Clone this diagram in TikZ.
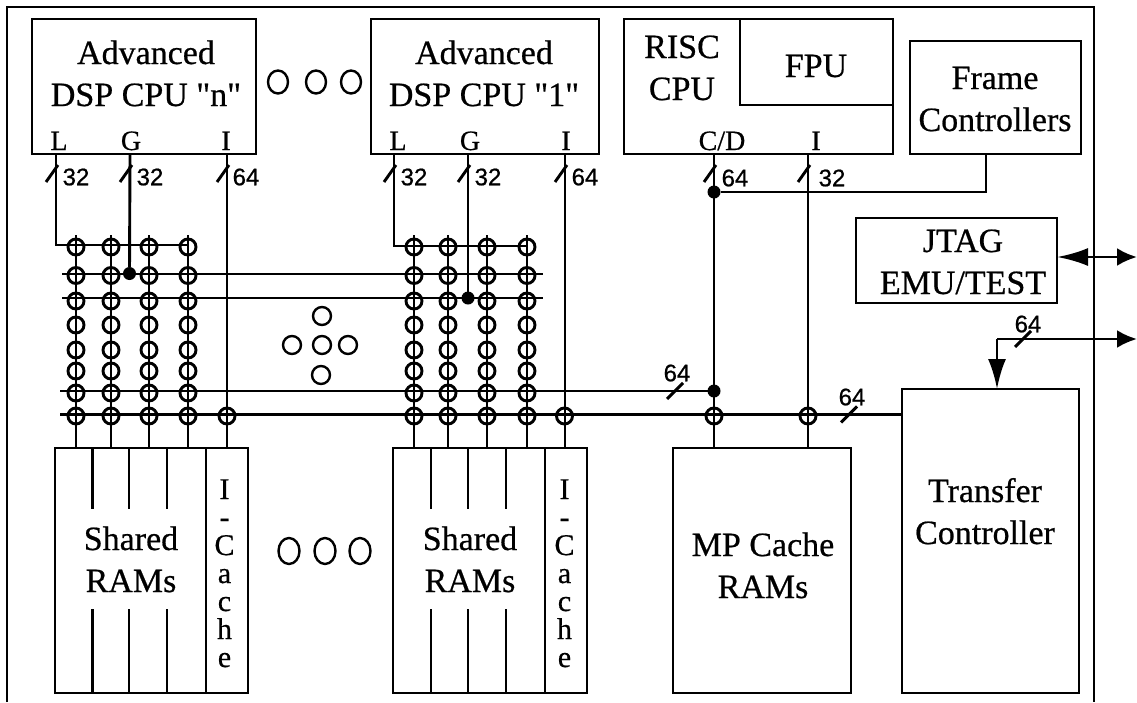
\documentclass[tikz,border=0pt]{standalone}
\usepackage{fontspec}
\newfontfamily\serf[FakeBold=0.6]{Liberation Serif}
\newfontfamily\numfont[FakeBold=0.7]{Liberation Sans}
\usetikzlibrary{arrows.meta,shapes.geometric}
\tikzset{
  ln/.style={line width=2.9pt,line cap=butt},
  thk/.style={line width=2.9pt},
  boxn/.style={draw,line width=2.9pt,inner sep=0pt,outer sep=0pt},
  txt/.style={inner sep=0pt,outer sep=0pt,align=center,anchor=base,font=\serf\fontsize{34}{42}\selectfont},
  portl/.style={inner sep=0pt,outer sep=0pt,anchor=base,font=\serf\fontsize{28}{30}\selectfont},
  cach/.style={inner sep=0pt,outer sep=0pt,align=center,anchor=base,font=\serf\fontsize{30}{28}\selectfont},
  num/.style={inner sep=0pt,outer sep=0pt,font=\numfont\fontsize{24}{24}\selectfont},
  junc/.style={draw,circle,line width=2.9pt,minimum size=16pt,inner sep=0pt,outer sep=0pt},
  bdot/.style={fill=black,circle,minimum size=13pt,inner sep=0pt,outer sep=0pt},
  oo/.style={draw,ellipse,line width=2.4pt,inner sep=0pt,outer sep=0pt,minimum width=20pt,minimum height=23pt},
  ool/.style={draw,ellipse,line width=2.4pt,inner sep=0pt,outer sep=0pt,minimum width=21pt,minimum height=26pt},
  ooc/.style={draw,circle,line width=2.4pt,inner sep=0pt,outer sep=0pt,minimum size=18pt},
  head/.style={-{Latex[length=#1,width=18pt]}},
}
\newcommand{\bx}[5]{%
  \pgfmathsetmacro{\bxa}{(#2+#4)/2}\pgfmathsetmacro{\bxb}{(#3+#5)/2}%
  \pgfmathsetmacro{\bxw}{#4-#2}\pgfmathsetmacro{\bxh}{#5-#3}%
  \node[boxn,minimum width=\bxw pt,minimum height=\bxh pt] (#1) at (\bxa,\bxb) {};}
\newcommand{\vsl}[2]{\draw[ln] (#1-10,#2+9) -- (#1+2,#2-8);}
\newcommand{\hsl}[2]{\draw[ln] (#1-8,#2+8) -- (#1+8,#2-8);}
\begin{document}
\begin{tikzpicture}[x=1pt,y=-1pt]
\useasboundingbox (0,0) rectangle (1137,702);
\fill[white] (0,0) rectangle (1137,702);
% outer frame
\draw[ln] (7,702) -- (7,7) -- (1094,7) -- (1094,702);
% boxes
\bx{cpun}{32}{19}{256}{154}
\bx{cpua}{371}{19}{599}{154}
\bx{risc}{624}{19}{893}{154}
\bx{fpu}{740}{19}{893}{105}
\bx{frame}{910}{41}{1081}{154}
\bx{jtag}{856}{218}{1057}{303}
\bx{ramn}{55}{448}{248}{693}
\bx{rama}{393}{448}{587}{693}
\bx{mp}{673}{448}{851}{693}
\bx{tc}{902}{389}{1079}{693}
% box texts
\node[txt] (tn) at (146,106) {Advanced\\DSP CPU "n"};
\node[txt] (ta) at (484,106) {Advanced\\DSP CPU "1"};
\node[txt] (tr) at (682,100) {RISC\\CPU};
\node[txt] (tf) at (816,77) {FPU};
\node[txt] (tfc) at (995,131) {Frame\\Controllers};
\node[txt] (tj) at (963,294) {JTAG\\EMU/TEST};
\node[txt] (ts1) at (131,592) {Shared\\RAMs};
\node[txt] (ts2) at (470,592) {Shared\\RAMs};
\node[txt] (tm) at (763,598) {MP Cache\\RAMs};
\node[txt] (tt) at (985,544) {Transfer\\Controller};
% port letters
\node[portl] (pl1) at (59,150) {L};
\node[portl] (pg1) at (131,150) {G};
\node[portl] (pi1) at (226,150) {I};
\node[portl] (pl2) at (398,150) {L};
\node[portl] (pg2) at (470,150) {G};
\node[portl] (pi2) at (566,150) {I};
\node[portl] (pcd) at (722,150) {C/D};
\node[portl] (pi3) at (816,150) {I};
% i-cache letters
\node[cach] (ca) at (224.5,667) {I\\-\\C\\a\\c\\h\\e};
\node[cach] (cb) at (564.5,667) {I\\-\\C\\a\\c\\h\\e};
% RAM dividers
\foreach \xa in {92.5,129,167,431,468,506}{
  \draw[ln] (\xa,448) -- (\xa,509);
  \draw[ln] (\xa,609) -- (\xa,693);
}
\draw[ln] (206,448) -- (206,693);
\draw[ln] (545,448) -- (545,693);
% coordinates for bus ends
\foreach \nm/\ya in {r2/274,r3/298}{
  \coordinate (\nm w) at (62,\ya);
  \coordinate (\nm e) at (543,\ya);
}
\coordinate (r7w) at (60,391);
\coordinate (r8w) at (60,414.5);
\coordinate (r7e) at (714,391);
\coordinate (r8e) at (902,414.5);
% CPU port lines
\coordinate (nLt) at (56,154); \coordinate (nGt) at (130,154); \coordinate (nIt) at (227,154);
\coordinate (aLt) at (394,154); \coordinate (aGt) at (468,154); \coordinate (aIt) at (565,154);
\coordinate (cdt) at (714,154); \coordinate (i3t) at (808,154); \coordinate (frt) at (986,154);
\coordinate (nIb) at (227,448); \coordinate (aIb) at (565,448);
\coordinate (cdb) at (714,448); \coordinate (i3b) at (808,448);
% buses
\draw[ln] (r2w) -- (r2e);
\draw[thk] (r3w) -- (r3e);
\draw[ln] (r7w) -- (r7e);
\draw[ln] (r8w) -- (r8e);
% crossbars
\foreach \gp/\xa/\xb/\xc/\xd in {n/76/111/149/188, a/414/448/487/527}{
  \foreach \cl/\xx in {1/\xa,2/\xb,3/\xc,4/\xd}{
    \coordinate (\gp\cl t) at (\xx,235);
    \coordinate (\gp\cl b) at (\xx,448);
    \draw[ln] (\gp\cl t) -- (\gp\cl b);
    \foreach \rw/\yy in {1/247,2/275.5,3/301,4/325,5/350,6/371,7/393,8/416}{
      \node[junc] (\gp\cl-\rw) at (\xx,\yy) {};
    }
  }
}
\draw[ln] (nLt) -- (56,245) -- (188,245);
\draw[ln] (aLt) -- (394,246) -- (527,246);
\node[bdot] (dn) at (129.5,273.5) {};
\node[bdot] (da) at (468,298) {};
\draw[ln] (nGt) -- (dn);
\draw[ln] (aGt) -- (da);
\draw[ln] (nIt) -- (nIb);
\draw[ln] (aIt) -- (aIb);
\node[junc] (jni) at (227,416) {};
\node[junc] (jai) at (564.5,416) {};
\node[junc] (jcd) at (714,416) {};
\node[junc] (ji3) at (808,416) {};
% RISC lines
\node[bdot] (d1) at (714,192) {};
\node[bdot] (d2) at (714,391) {};
\draw[thk] (cdt) -- (cdb);
\draw[ln] (i3t) -- (i3b);
\draw[ln] (frt) |- (d1);
% arrows
\coordinate (je) at (1137,257);
\coordinate (jm) at (1103,257);
\draw[ln,head=31pt] (jm) -- (jtag.east |- jm);
\draw[ln,head=20pt] (jm) -- (je);
\coordinate (tcc) at (997,339);
\coordinate (tce) at (1137,339);
\draw[ln,head=20pt] (tcc) -- (tce);
\draw[ln,head=30pt] (tcc) -- (tcc |- tc.north);
% bus widths
\vsl{56}{173} \node[num] (w1) at (76,177) {32};
\vsl{130}{173} \node[num] (w2) at (150,177) {32};
\vsl{227}{173} \node[num] (w3) at (246,177) {64};
\vsl{394}{173} \node[num] (w4) at (414,177) {32};
\vsl{468}{173} \node[num] (w5) at (488,177) {32};
\vsl{565}{173} \node[num] (w6) at (585,177) {64};
\vsl{714}{173} \node[num] (w7) at (735,178) {64};
\vsl{808}{173} \node[num] (w8) at (832,178) {32};
\hsl{675}{391} \node[num] (w9) at (677,373) {64};
\hsl{849}{414.5} \node[num] (w10) at (852,397) {64};
\hsl{1023}{339} \node[num] (w11) at (1028,324) {64};
% ellipsis circles
\node[oo] (o1) at (278,82) {};
\node[oo] (o2) at (316,82) {};
\node[oo] (o3) at (351,82) {};
\node[ool] (o4) at (289,551) {};
\node[ool] (o5) at (325,551) {};
\node[ool] (o6) at (360,551) {};
\node[ooc] (o7) at (322,316) {};
\node[ooc] (o8) at (292,345) {};
\node[ooc] (o9) at (322,345) {};
\node[ooc] (o10) at (348,345) {};
\node[ooc] (o11) at (321,375) {};
\end{tikzpicture}
\end{document}
